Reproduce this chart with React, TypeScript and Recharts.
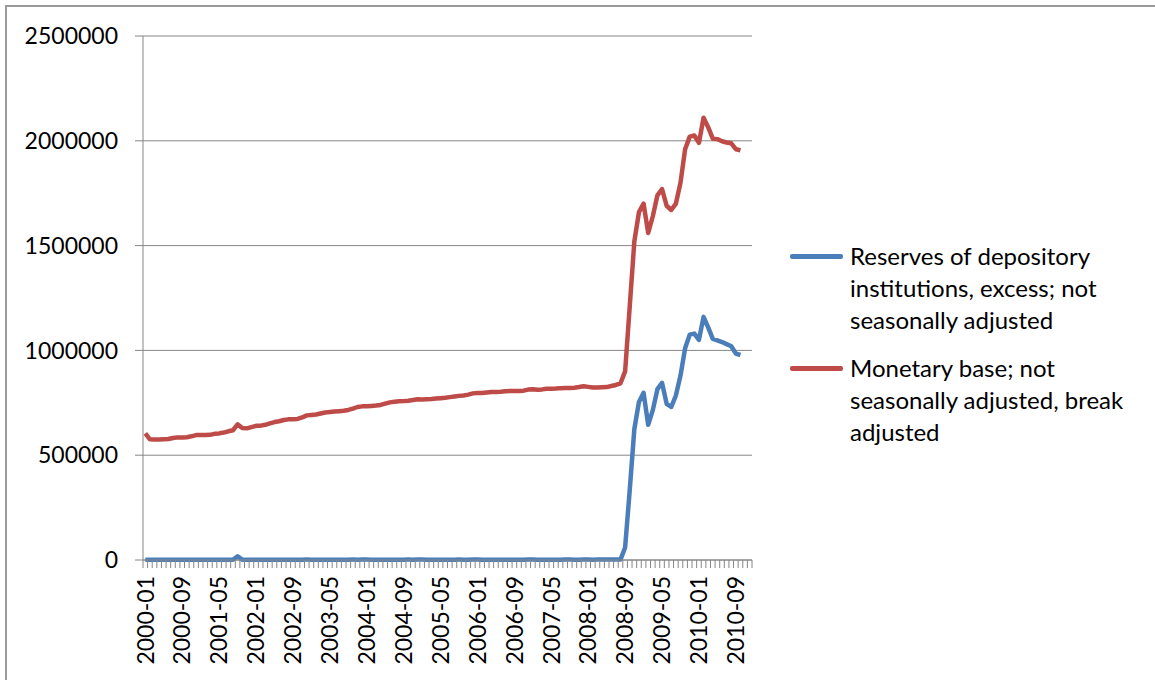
import React from "react";
import { LineChart, Line, XAxis, YAxis, CartesianGrid, Legend } from "recharts";

// monthly categories 2000-01 .. 2010-12
const YEARS = [2000, 2001, 2002, 2003, 2004, 2005, 2006, 2007, 2008, 2009, 2010];
const MONTHS = ["01", "02", "03", "04", "05", "06", "07", "08", "09", "10", "11", "12"];
const CATEGORIES = YEARS.flatMap((y) => MONTHS.map((m) => `${y}-${m}`));

const Y_TICKS = [0, 500000, 1000000, 1500000, 2000000, 2500000];

const EXCESS_NAME = "Reserves of depository\ninstitutions, excess; not\nseasonally adjusted";
const BASE_NAME = "Monetary base; not\nseasonally adjusted, break\nadjusted";
const LEGEND_ORDER = ["excess", "base"];

// Reserves of depository institutions, excess (one row per year)
const EXCESS = [
  1400, 1100, 1200, 1200, 1000, 1100, 1100, 1000, 1200, 1100, 1300, 1200,
  1500, 1100, 1300, 1200, 1100, 1400, 1300, 1300, 18000, 1700, 1400, 1500,
  1600, 1400, 1400, 1500, 1300, 1600, 1500, 1400, 1600, 1700, 1600, 1800,
  1700, 1500, 1700, 1600, 1500, 1700, 1600, 1600, 1700, 1800, 1600, 1900,
  1800, 1600, 1700, 1700, 1500, 1700, 1600, 1500, 1700, 1800, 1600, 1900,
  1800, 1600, 1700, 1600, 1500, 1700, 1600, 1500, 1800, 1700, 1600, 1900,
  1800, 1600, 1700, 1600, 1500, 1700, 1600, 1500, 1700, 1700, 1600, 1900,
  1800, 1600, 1700, 1600, 1500, 1700, 1600, 1800, 1900, 1700, 1600, 1800,
  1800, 1700, 1800, 1900, 1800, 2000, 1900, 1900, 60000, 334000, 625000, 754000,
  798000, 645000, 715000, 815000, 845000, 745000, 730000, 785000, 880000, 1010000, 1075000, 1080000,
  1050000, 1160000, 1110000, 1055000, 1048000, 1040000, 1030000, 1020000, 985000, 978000, null, null,
];

// Monetary base, break adjusted
const BASE = [
  604000, 576000, 575000, 575000, 576000, 577000, 582000, 585000, 585000, 586000, 590000, 596000,
  596000, 596000, 597000, 602000, 604000, 608000, 614000, 619000, 647000, 630000, 628000, 634000,
  640000, 641000, 645000, 652000, 658000, 662000, 668000, 671000, 672000, 673000, 680000, 690000,
  692000, 694000, 699000, 704000, 706000, 708000, 710000, 712000, 716000, 722000, 730000, 733000,
  733000, 735000, 737000, 740000, 746000, 752000, 755000, 757000, 758000, 760000, 763000, 767000,
  766000, 767000, 768000, 770000, 772000, 774000, 777000, 780000, 783000, 785000, 789000, 795000,
  797000, 797000, 799000, 801000, 802000, 803000, 805000, 806000, 806000, 806000, 808000, 813000,
  815000, 812000, 814000, 817000, 817000, 818000, 820000, 821000, 821000, 822000, 825000, 829000,
  826000, 823000, 823000, 824000, 825000, 830000, 835000, 843000, 900000, 1210000, 1520000, 1660000,
  1700000, 1560000, 1640000, 1740000, 1770000, 1690000, 1670000, 1700000, 1800000, 1960000, 2020000, 2025000,
  1990000, 2110000, 2065000, 2010000, 2008000, 1998000, 1992000, 1988000, 1960000, 1955000, null, null,
];

const data = CATEGORIES.map((month, i) => ({ month, excess: EXCESS[i], base: BASE[i] }));

const W = 1155;
const H = 680;
const PLOT_LEFT = 143;
const PLOT_RIGHT = 752;
const PLOT_TOP = 36;
const PLOT_BOTTOM = 560;
const BAND = (PLOT_RIGHT - PLOT_LEFT) / CATEGORIES.length;

const GRID = "#868686";
const BLUE = "#4A7EBB";
const RED = "#BE4B48";
const FONT = "Lato, 'Open Sans', sans-serif";
const FS = 23;

// Excel-style category axis: tick mark between every month, label every 8th
function MonthTick(props: any) {
  const { x, payload, index } = props;
  const i = payload?.index ?? index;
  const left = x - BAND / 2;
  const ty = PLOT_BOTTOM + 16;
  return (
    <g>
      <line x1={left} x2={left} y1={PLOT_BOTTOM} y2={PLOT_BOTTOM + 8} stroke={GRID} />
      {i === CATEGORIES.length - 1 && (
        <line x1={x + BAND / 2} x2={x + BAND / 2} y1={PLOT_BOTTOM} y2={PLOT_BOTTOM + 8} stroke={GRID} />
      )}
      {i % 8 === 0 && (
        <text
          x={x}
          y={ty}
          dy="0.36em"
          transform={`rotate(-90, ${x}, ${ty})`}
          textAnchor="end"
          fill="#000"
          fontSize={FS}
          fontFamily={FONT}
        >
          {payload.value}
        </text>
      )}
    </g>
  );
}

const LegendContent = ({ payload }: any) => {
  const items = [...(payload || [])].sort(
    (a: any, b: any) => LEGEND_ORDER.indexOf(a.dataKey) - LEGEND_ORDER.indexOf(b.dataKey)
  );
  return (
    <div style={{ fontFamily: FONT, fontSize: 24, lineHeight: "32px", color: "#000" }}>
      {items.map((p: any, k: number) => (
        <div key={p.dataKey} style={{ display: "flex", alignItems: "flex-start", marginTop: k ? 16 : 0 }}>
          <span style={{ width: 53, height: 4.5, background: p.color, borderRadius: 2, marginTop: 14, marginRight: 7, flex: "none" }} />
          <span style={{ whiteSpace: "pre-line" }}>{p.value}</span>
        </div>
      ))}
    </div>
  );
};

export default function App() {
  return (
    <div style={{ position: "fixed", left: 0, top: 0, width: W, height: H, background: "#fff", overflow: "hidden" }}>
      <div style={{ position: "absolute", left: 5, top: 5, width: W, height: H, borderLeft: "2px solid #9a9a9a", borderTop: "2px solid #9a9a9a" }} />
      <div style={{ position: "absolute", left: 0, top: 0 }}>
        <LineChart
          width={W}
          height={H}
          data={data}
          margin={{ top: PLOT_TOP, right: W - PLOT_RIGHT, bottom: 0, left: 13 }}
        >
          <CartesianGrid vertical={false} stroke={GRID} />
          <XAxis
            dataKey="month"
            interval={0}
            height={H - PLOT_BOTTOM}
            tick={<MonthTick />}
            tickLine={false}
            axisLine={{ stroke: GRID }}
            padding={{ left: BAND / 2, right: BAND / 2 }}
          />
          <YAxis
            type="number"
            domain={[0, 2500000]}
            ticks={Y_TICKS}
            width={130}
            tickSize={8}
            tickMargin={17}
            axisLine={{ stroke: GRID }}
            tickLine={{ stroke: GRID }}
            tick={{ fill: "#000", fontSize: FS, fontFamily: FONT }}
            tickFormatter={(v) => String(v)}
          />
          <Legend
            layout="horizontal"
            verticalAlign="middle"
            content={<LegendContent />}
            wrapperStyle={{ left: 790, top: 240, width: 360, height: "auto" }}
          />
          <Line type="linear" dataKey="excess" name={EXCESS_NAME} stroke={BLUE} strokeWidth={4.5} dot={false} activeDot={false} isAnimationActive={false} strokeLinejoin="round" />
          <Line type="linear" dataKey="base" name={BASE_NAME} stroke={RED} strokeWidth={4.5} dot={false} activeDot={false} isAnimationActive={false} strokeLinejoin="round" />
        </LineChart>
      </div>
    </div>
  );
}
